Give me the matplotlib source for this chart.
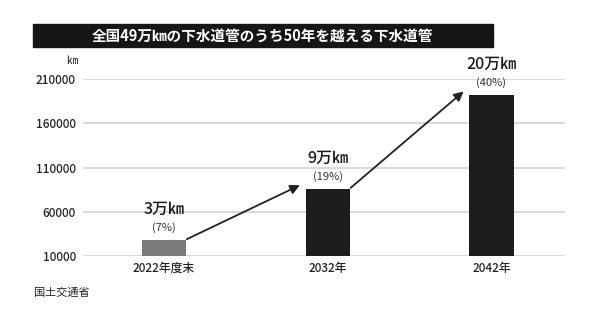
import matplotlib.pyplot as plt
from matplotlib.patches import Rectangle

plt.rcParams['font.family'] = ['Noto Sans CJK JP', 'DejaVu Sans']

# data
categories = ["2022年度末", "2032年", "2042年"]
values = [28000, 86000, 192000]
labels = ["3万㎞", "9万㎞", "20万㎞"]
shares = ["(7%)", "(19%)", "(40%)"]
bar_colors = ["#7b7b7b", "#1c1c1c", "#1c1c1c"]
yticks = [10000, 60000, 110000, 160000, 210000]

fig = plt.figure(figsize=(6, 3.2), dpi=100)
ax = fig.add_axes([0.138, 0.2, 0.804, 0.553])

x = list(range(len(categories)))
ax.bar(x, values, width=0.27, bottom=0, color=bar_colors, zorder=2)
ax.set_ylim(10000, 210000)
ax.set_xlim(-0.495, 2.45)
ax.set_yticks(yticks)
ax.set_yticklabels([str(t) for t in yticks], fontweight="medium")
ax.set_xticks(x)
ax.set_xticklabels(categories, fontweight="medium")
ax.tick_params(axis='both', length=0, labelsize=8.5, colors="#222222")
ax.tick_params(axis='y', pad=5)
ax.tick_params(axis='x', pad=4)
ax.grid(axis='y', color="#d3d3d3", linewidth=1.2, zorder=0)
for s in ax.spines.values():
    s.set_visible(False)

# value labels
for xi, v, lab, sh in zip(x, values, labels, shares):
    ax.annotate(sh, (xi, v), xytext=(0, 5), textcoords="offset points",
                ha="center", va="bottom", fontsize=8, color="#333333")
    ax.annotate(lab, (xi, v), xytext=(0, 16), textcoords="offset points",
                ha="center", va="bottom", fontsize=11.5, fontweight="medium",
                color="#1a1a1a")

# growth arrows
for i in range(len(values) - 1):
    ax.annotate("", xy=(x[i + 1] - 0.17, values[i + 1] + 4000),
                xytext=(x[i] + 0.14, values[i] + 1000),
                arrowprops=dict(arrowstyle="-|>", color="#222222", lw=1.3,
                                mutation_scale=14, shrinkA=0, shrinkB=0))

# unit label
fig.text(0.12, 0.81, "㎞", fontsize=8, ha="center", va="center", color="#222222")

# title bar
fig.patches.append(Rectangle((0.055, 0.853), 0.767, 0.072, transform=fig.transFigure,
                             color="#161616", zorder=0))
fig.text(0.438, 0.889, "全国49万㎞の下水道管のうち50年を越える下水道管",
         fontsize=10.5, fontweight="bold", color="white", ha="center", va="center")

# source
fig.text(0.057, 0.085, "国土交通省", fontsize=8, ha="left", va="center", color="#222222")

fig.savefig("out.png", dpi=100, facecolor="white")
